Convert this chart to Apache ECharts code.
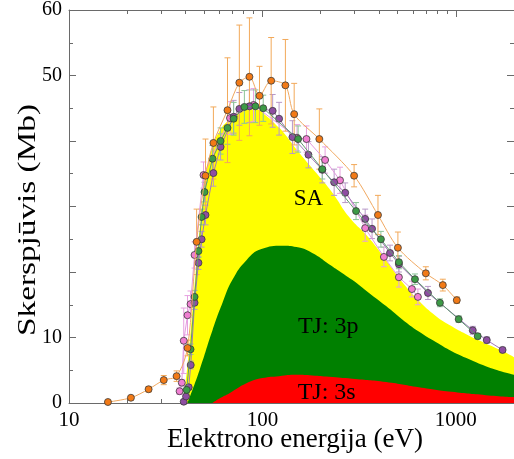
<!DOCTYPE html>
<html lang="lt">
  <head>
    <meta charset="UTF-8" />
    <title>Skerspjūvis</title>
    <script src="https://cdn.jsdelivr.net/npm/echarts@6/dist/echarts.min.js"></script>
    <style>
      html, body { margin: 0; padding: 0; background: #fff; }
      #main { width: 514px; height: 459px; }
    </style>
  </head>
  <body>
    <div id="main"></div>
    <script>
      // ---- duomenys (eV, Mb) ----
      // SA (viso)
      var saE = [38.5, 40, 42, 44, 46, 48, 50, 52, 55, 60, 66, 75, 85.7, 93, 105, 118, 127, 155, 190, 230, 281, 356, 436, 527, 644, 788, 953, 1166, 1429, 1726, 2000];
      var saS = [0, 3, 9, 16, 22.5, 28, 32.5, 36, 39, 41.5, 43, 44.3, 44.8, 44.8, 43.8, 42.4, 41.5, 38.2, 35.1, 32.1, 28.4, 25.2, 21.8, 18.5, 15.6, 13.3, 11.7, 10.3, 9.1, 8.0, 7.0];
      // TJ: 3p
      var p3E = [41, 47.3, 55.2, 62.2, 70, 82.7, 98.9, 127, 150, 181, 221, 291, 356, 436, 527, 644, 788, 953, 1166, 1429, 1726, 2000];
      var p3S = [0, 5, 11.1, 15.3, 18.8, 21.8, 23.5, 24.0, 23.8, 22.9, 21.2, 18.8, 16.8, 14.8, 12.8, 10.9, 9.3, 7.9, 6.7, 5.6, 4.8, 4.3];
      // TJ: 3s
      var s3E = [55, 60, 67.6, 82.7, 100, 122, 150, 181, 221, 291, 436, 644, 953, 1429, 2000];
      var s3S = [0, 0.7, 1.5, 3.0, 3.8, 4.1, 4.3, 4.2, 4.0, 3.7, 3.2, 2.4, 1.7, 1.2, 0.9];

      // eksperimentai
      var orE = [15.9, 20.9, 25.8, 30.9, 36, 41, 45.7, 50.8, 55.8, 66, 76, 85.7, 96.6, 111, 131.5, 146, 197, 298, 396, 502, 700, 857, 1012];
      var orS = [0.15, 0.8, 2.1, 3.5, 4.1, 8.4, 24.6, 34.7, 39.7, 44.7, 48.9, 49.8, 46.9, 49.2, 48.5, 44.1, 40.3, 34.7, 28.7, 23.7, 19.8, 18.0, 15.7];
      var orErr = [0, 0, 0.4, 0.7, 0.8, 1.2, 5, 5.6, 5.5, 8, 8.8, 9, 4.5, 6.6, 7, 4.7, 4.6, 1.7, 3, 2.4, 1, 0.9, 0.5];

      var grE = [40.6, 42.5, 44.6, 46.7, 48.5, 50.2, 55.2, 60.8, 66, 71, 80.7, 92, 101, 153, 204, 305, 410, 508, 615, 828, 1035, 1298];
      var grS = [2.0, 8.2, 16.2, 23.2, 28.4, 32.2, 37.3, 40, 42, 43.4, 45.2, 45.3, 45.0, 40.3, 35.7, 29.3, 25, 21.5, 18.9, 15.3, 12.8, 10.2];
      var grErr = [0.5, 0.8, 1, 1, 1.2, 1.5, 2, 2, 2.5, 2.5, 2.5, 2.5, 2, 2, 1.5, 1.3, 1.2, 1, 0.8, 0.6, 0.5, 0.4];

      var puE = [39.2, 40.3, 41.6, 42.6, 44.6, 46.7, 48.5, 50.8, 55.8, 60.8, 71, 76, 85.7, 113, 122, 143, 173, 204, 235, 268, 340, 369, 457, 508, 718, 1224, 1446, 1746];
      var puS = [0.2, 1.0, 2.4, 5.8, 15.3, 21.4, 25, 28.7, 35.1, 39.1, 43.7, 44.9, 45.3, 44.6, 43.4, 40.6, 37.9, 35.6, 33.7, 32.1, 28.1, 26.6, 22.9, 21.2, 16.8, 11.1, 9.6, 8.1];
      var puErr = [0.3, 0.3, 0.4, 0.6, 1, 1, 1.2, 1.5, 2, 2, 2.5, 2.5, 2.5, 2.5, 2.5, 2.5, 2, 2, 2, 1.5, 1.5, 1.5, 1.2, 1.2, 1, 0.6, 0.5, 0.4];

      var piE = [37.3, 38.3, 39.2, 41, 42.5, 44.6, 49.6, 68, 90, 151, 169, 211, 252, 340, 425, 508, 593, 637];
      var piS = [1.8, 3.1, 9.5, 13.4, 15.1, 22.6, 34.8, 43.5, 45.5, 40.5, 40.3, 37.1, 34.0, 26.7, 22.3, 19.2, 17.4, 16.2];
      var piErr = [0.5, 0.5, 5, 3, 2, 2, 2, 2.5, 2.5, 2, 2, 2, 2, 2, 1.5, 1.5, 1.2, 1.2];

      // ašių padalos
      var majorX = [10, 100, 1000];
      var minorX = [20, 30, 40, 50, 60, 70, 80, 90, 200, 300, 400, 500, 600, 700, 800, 900, 2000];
      var yLabels = [0, 10, 50, 60];

      function zip(a, b, c) {
        return a.map(function (v, i) {
          return c ? [v, b[i], c[i]] : [v, b[i]];
        });
      }

      var serif = "Liberation Serif";
      var axisCol = "#6a6a6a";

      // klaidų intervalai
      function errBars(color) {
        return function (params, api) {
          var x = api.value(0), y = api.value(1), e = api.value(2);
          if (!e) return null;
          var hi = api.coord([x, y + e]);
          var lo = api.coord([x, y - e]);
          var w = 3;
          var st = { stroke: color, lineWidth: 1 };
          return {
            type: "group",
            children: [
              { type: "line", shape: { x1: hi[0], y1: hi[1], x2: lo[0], y2: lo[1] }, style: st },
              { type: "line", shape: { x1: hi[0] - w, y1: hi[1], x2: hi[0] + w, y2: hi[1] }, style: st },
              { type: "line", shape: { x1: lo[0] - w, y1: lo[1], x2: lo[0] + w, y2: lo[1] }, style: st }
            ]
          };
        };
      }

      function xAx(pos, ticks, len, showLine, labels) {
        return {
          type: "log",
          logBase: 10,
          min: 10,
          max: 2000,
          position: pos,
          gridIndex: 0,
          axisLine: { show: showLine, onZero: false, lineStyle: { color: axisCol, width: 1 } },
          axisTick: { show: true, inside: true, length: len, customValues: ticks, lineStyle: { color: axisCol } },
          axisLabel: labels
            ? {
                show: true,
                customValues: labels,
                margin: 7,
                color: "#000",
                fontFamily: serif,
                fontSize: 21,
                formatter: function (v) {
                  return String(Math.round(v));
                }
              }
            : { show: false },
          splitLine: { show: false },
          minorTick: { show: false }
        };
      }

      function yAx(pos, showLabels) {
        return {
          type: "value",
          min: 0,
          max: 60,
          interval: 10,
          position: pos,
          axisLine: { show: true, onZero: false, lineStyle: { color: axisCol, width: 1 } },
          axisTick: { show: true, inside: true, length: 7, lineStyle: { color: axisCol } },
          minorTick: { show: true, splitNumber: 2, length: 4, lineStyle: { color: axisCol } },
          axisLabel: showLabels
            ? {
                show: true,
                margin: 7,
                color: "#000",
                fontFamily: serif,
                fontSize: 20,
                formatter: function (v) {
                  return yLabels.indexOf(v) >= 0 ? String(v) : "";
                }
              }
            : { show: false },
          splitLine: { show: false }
        };
      }

      var myChart = echarts.init(document.getElementById("main"), null, { renderer: "canvas" });

      var mk = function (fill) {
        return { color: fill, borderColor: "#3a3a3a", borderWidth: 0.8 };
      };

      function area(name, e, s, color, z) {
        return {
          name: name,
          type: "line",
          data: zip(e, s),
          smooth: 0.5,
          symbol: "none",
          lineStyle: { width: 0 },
          areaStyle: { color: color, opacity: 1 },
          z: z
        };
      }

      var option = {
        animation: false,
        backgroundColor: "#fff",
        grid: { left: 69, right: 0, top: 10, bottom: 56, containLabel: false },
        xAxis: [
          xAx("bottom", majorX, 7, true, majorX),
          xAx("bottom", minorX, 4, false, null),
          xAx("top", majorX, 7, true, null),
          xAx("top", minorX, 4, false, null)
        ],
        yAxis: [yAx("left", true), yAx("right", false)],
        series: [
          area("SA", saE, saS, "#ffff00", 1),
          area("TJ: 3p", p3E, p3S, "#008000", 2),
          area("TJ: 3s", s3E, s3S, "#ff0000", 3),
          { type: "custom", renderItem: errBars("#e7a0e0"), data: zip(piE, piS, piErr), encode: { x: 0, y: 1 }, z: 4 },
          { type: "custom", renderItem: errBars("#b898c8"), data: zip(puE, puS, puErr), encode: { x: 0, y: 1 }, z: 4 },
          { type: "custom", renderItem: errBars("#8cc498"), data: zip(grE, grS, grErr), encode: { x: 0, y: 1 }, z: 4 },
          { type: "custom", renderItem: errBars("#f2a95a"), data: zip(orE, orS, orErr), encode: { x: 0, y: 1 }, z: 4 },
          {
            name: "pink",
            type: "line",
            data: zip(piE, piS),
            symbol: "circle",
            symbolSize: 7,
            itemStyle: mk("#f07ed2"),
            lineStyle: { color: "#e49ae0", width: 1 },
            z: 5
          },
          {
            name: "purple",
            type: "line",
            data: zip(puE, puS),
            symbol: "circle",
            symbolSize: 7,
            itemStyle: mk("#8e4ea2"),
            lineStyle: { color: "#a27ab8", width: 1 },
            z: 6
          },
          {
            name: "green",
            type: "line",
            data: zip(grE, grS),
            symbol: "circle",
            symbolSize: 7,
            itemStyle: mk("#3c9a46"),
            lineStyle: { color: "#5f9a70", width: 1 },
            z: 7
          },
          {
            name: "orange",
            type: "line",
            data: zip(orE, orS),
            smooth: 0.3,
            symbol: "circle",
            symbolSize: 7,
            itemStyle: mk("#f27a16"),
            lineStyle: { color: "#f0a860", width: 1 },
            z: 8
          }
        ]
      };
      myChart.setOption(option);

      // užrašai ant sričių
      var notes = [
        { text: "SA", at: [173, 31.1], size: 23 },
        { text: "TJ: 3p", at: [219, 11.6], size: 24 },
        { text: "TJ: 3s", at: [215, 1.5], size: 24 }
      ];
      var texts = notes.map(function (n) {
        var p = myChart.convertToPixel({ xAxisIndex: 0, yAxisIndex: 0 }, n.at);
        return {
          type: "text",
          x: p[0],
          y: p[1],
          z: 20,
          style: {
            text: n.text,
            fill: "#000",
            font: n.size + "px 'Liberation Serif'",
            align: "center",
            verticalAlign: "middle"
          }
        };
      });
      // ašių pavadinimai
      texts.push({
        type: "text",
        x: 295,
        y: 440,
        style: {
          text: "Elektrono energija (eV)",
          fill: "#000",
          font: "27px 'Liberation Serif'",
          align: "center",
          verticalAlign: "middle"
        }
      });
      texts.push({
        type: "text",
        x: 28,
        y: 220,
        rotation: Math.PI / 2,
        scaleX: 1.28,
        style: {
          text: "Skerspjūvis (Mb)",
          fill: "#000",
          font: "26px 'Liberation Serif'",
          align: "center",
          verticalAlign: "middle"
        }
      });
      myChart.setOption({ graphic: texts });
    </script>
  </body>
</html>
